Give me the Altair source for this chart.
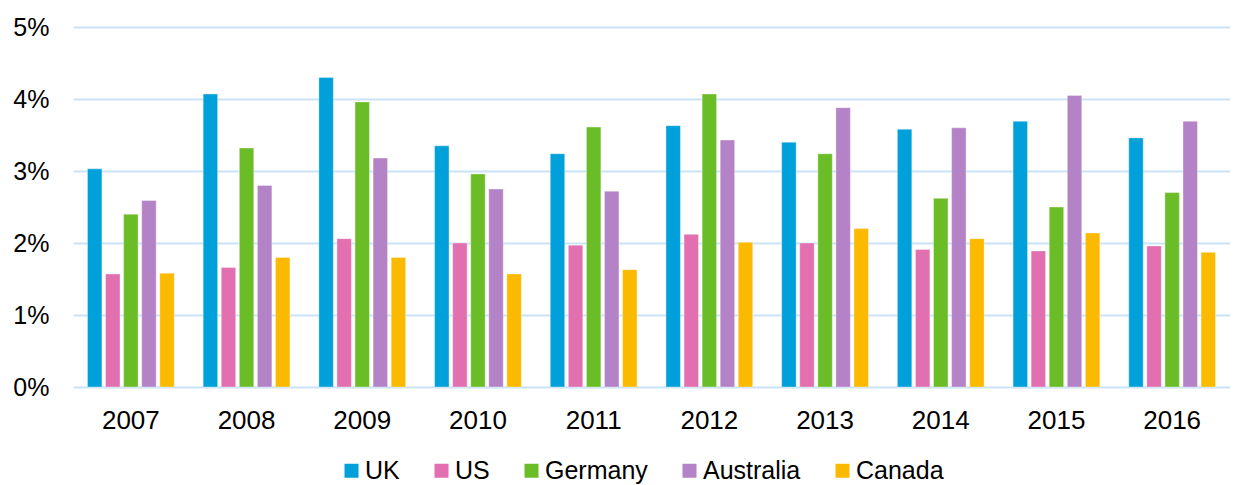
import altair as alt
import pandas as pd

years = ["2007", "2008", "2009", "2010", "2011", "2012", "2013", "2014", "2015", "2016"]
countries = ["UK", "US", "Germany", "Australia", "Canada"]
uk = [3.03, 4.07, 4.30, 3.35, 3.24, 3.63, 3.40, 3.58, 3.69, 3.46]
us = [1.57, 1.66, 2.06, 2.00, 1.97, 2.12, 2.00, 1.91, 1.89, 1.96]
germany = [2.40, 3.32, 3.96, 2.96, 3.61, 4.07, 3.24, 2.62, 2.50, 2.70]
australia = [2.59, 2.80, 3.18, 2.75, 2.72, 3.43, 3.88, 3.60, 4.05, 3.69]
canada = [1.58, 1.80, 1.80, 1.57, 1.63, 2.01, 2.20, 2.06, 2.14, 1.87]
colors = ["#00A0DA", "#E26FAF", "#6BBD28", "#B482C6", "#FBB900"]
y_ticks = [0, 0.01, 0.02, 0.03, 0.04, 0.05]

series = [uk, us, germany, australia, canada]
rows = []
for c, vals in zip(countries, series):
    for yr, v in zip(years, vals):
        rows.append({"year": yr, "country": c, "value": v / 100.0})
df = pd.DataFrame(rows)

FONT = "Liberation Sans"

chart = alt.Chart(df).mark_bar(stroke="white", strokeWidth=0.6, strokeOpacity=0.6).encode(
    x=alt.X("year:N", sort=years, title=None,
            scale=alt.Scale(paddingInner=0.25, paddingOuter=0.125),
            axis=alt.Axis(labelAngle=0, labelFontSize=26, labelFont=FONT, labelColor="#000000",
                          labelPadding=20, ticks=False, domain=False, grid=False)),
    xOffset=alt.XOffset("country:N", sort=countries,
                        scale=alt.Scale(paddingInner=0.2, paddingOuter=0)),
    y=alt.Y("value:Q", title=None,
            scale=alt.Scale(domain=[0, 0.05], nice=False),
            axis=alt.Axis(values=y_ticks, format=".0%", labelFontSize=25, labelFont=FONT,
                          labelColor="#000000", labelPadding=24, ticks=False, domain=False,
                          grid=True, gridColor="#C9E4F8", gridWidth=2, gridOpacity=1)),
    color=alt.Color("country:N", sort=countries,
                    scale=alt.Scale(domain=countries, range=colors),
                    legend=alt.Legend(title=None, orient="none", direction="horizontal",
                                      legendX=266, legendY=431,
                                      symbolType="square", symbolSize=196, symbolStrokeWidth=0,
                                      labelFontSize=25, labelFont=FONT, labelColor="#000000",
                                      labelOffset=1, columnPadding=29)),
).properties(
    width=1157,
    height=360,
    autosize=alt.AutoSizeParams(type="none"),
    padding={"left": 65, "top": 19, "right": 0, "bottom": 98},
).configure_view(stroke=None)

chart.save("out.html", embed_options={"renderer": "svg", "actions": False})
